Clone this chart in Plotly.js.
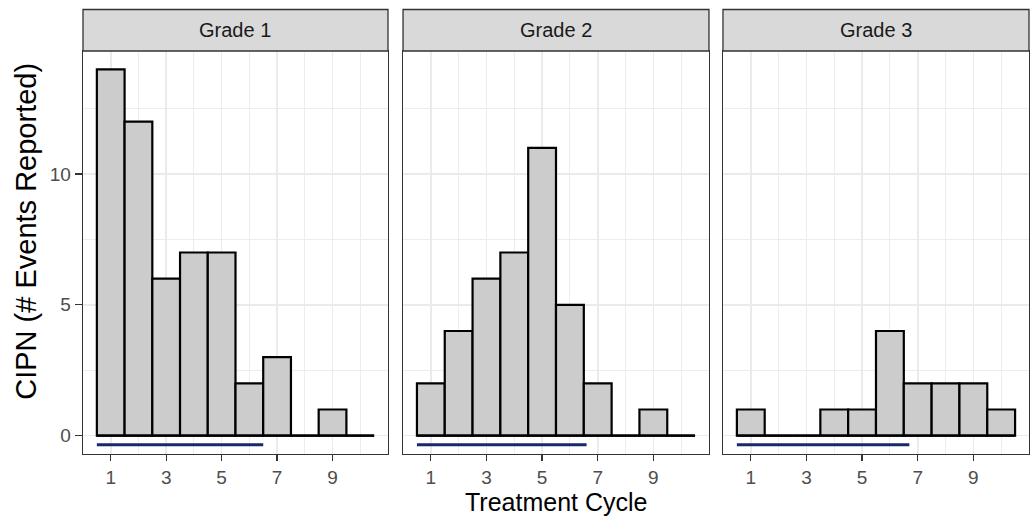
<!DOCTYPE html>
<html>
<head>
<meta charset="utf-8">
<script src="https://cdn.plot.ly/plotly-3.0.1.min.js"></script>
<style>html,body{margin:0;padding:0;background:#fff;}#chart{width:1031px;height:522px;}</style>
</head>
<body>
<div id="chart"></div>
<script>
// ---- data ----
const cycles = [1, 2, 3, 4, 5, 6, 7, 8, 9, 10];
const grade1 = [14, 12, 6, 7, 7, 2, 3, 0, 1, 0];
const grade2 = [2, 4, 6, 7, 11, 5, 2, 0, 1, 0];
const grade3 = [1, 0, 0, 1, 1, 4, 2, 2, 2, 1];
const panelNames = ["Grade 1", "Grade 2", "Grade 3"];
const segStart = [0.5, 0.5, 0.5];
const segEnd = [6.5, 6.6, 6.7];
const segY = [-0.35, -0.35, -0.35];
const xTicks = [1, 3, 5, 7, 9];
const yTicks = [0, 5, 10];
const axisTitleX = "Treatment Cycle";
const axisTitleY = "CIPN (# Events Reported)";

// ---- styling ----
const FONT = "Liberation Sans, Arial, Helvetica, sans-serif";
const counts = [grade1, grade2, grade3];
const domains = [[0, 0.3224], [0.3383, 0.6617], [0.6765, 1]];
const plotH = 403;
const stripH = 41.5;

const traces = [];
const shapes = [];
const annotations = [];
const layout = {
  width: 1031, height: 522,
  margin: {l: 83, r: 2, t: 51, b: 68},
  paper_bgcolor: "#ffffff", plot_bgcolor: "#ffffff",
  showlegend: false,
  font: {family: FONT},
  hovermode: false
};

counts.forEach((vals, i) => {
  const xa = i === 0 ? "x" : "x" + (i + 1);
  const ya = i === 0 ? "y" : "y" + (i + 1);
  traces.push({
    type: "bar", x: cycles, y: vals, width: 1,
    xaxis: xa, yaxis: ya,
    marker: {color: "#CCCCCC", line: {color: "#000000", width: 2.2}}
  });
  traces.push({
    type: "scatter", mode: "lines",
    x: [cycles[0] - 0.5, cycles[cycles.length - 1] + 0.5], y: [0, 0],
    xaxis: xa, yaxis: ya,
    line: {color: "#000000", width: 2.2}
  });
  traces.push({
    type: "scatter", mode: "lines",
    x: [segStart[i], segEnd[i]], y: [segY[i], segY[i]],
    xaxis: xa, yaxis: ya,
    line: {color: "#17296B", width: 3}
  });

  const common = {
    showline: true, mirror: true, linecolor: "#333333", linewidth: 1.3,
    ticks: "outside", ticklen: 6, tickwidth: 1.3, tickcolor: "#333333",
    showgrid: true, gridcolor: "#EBEBEB", gridwidth: 1.6,
    zeroline: false, fixedrange: true,
    tickfont: {family: FONT, size: 19, color: "#4D4D4D"}
  };
  layout[(i === 0 ? "xaxis" : "xaxis" + (i + 1))] = Object.assign({}, common, {
    domain: domains[i], anchor: ya, range: [0, 11],
    tickmode: "array", tickvals: xTicks, ticktext: xTicks.map(String),
    minor: {tick0: 0, dtick: 1, showgrid: true, gridcolor: "#EBEBEB", gridwidth: 0.9, ticks: ""}
  });
  layout[(i === 0 ? "yaxis" : "yaxis" + (i + 1))] = Object.assign({}, common, {
    domain: [0, 1], anchor: xa, range: [-0.7, 14.7],
    tickmode: "array", tickvals: yTicks, ticktext: yTicks.map(String),
    showticklabels: i === 0, ticks: i === 0 ? "outside" : "",
    ticklen: 7,
    minor: {tick0: 2.5, dtick: 5, showgrid: true, gridcolor: "#EBEBEB", gridwidth: 0.9, ticks: ""}
  });

  shapes.push({
    type: "rect", xref: "paper", yref: "paper",
    x0: domains[i][0], x1: domains[i][1], y0: 1, y1: 1 + stripH / plotH,
    fillcolor: "#D9D9D9", line: {color: "#333333", width: 1.3}, layer: "above"
  });
  annotations.push({
    xref: "paper", yref: "paper",
    x: (domains[i][0] + domains[i][1]) / 2, y: 1 + stripH / plotH / 2,
    xanchor: "center", yanchor: "middle", showarrow: false,
    text: panelNames[i], font: {family: FONT, size: 20, color: "#1A1A1A"}
  });
});

annotations.push({
  xref: "paper", yref: "paper", x: 0.5, y: 0, yshift: -48,
  xanchor: "center", yanchor: "middle", showarrow: false,
  text: axisTitleX, font: {family: FONT, size: 25, color: "#000000"}
});
annotations.push({
  xref: "paper", yref: "paper", x: 0, y: (plotH + stripH) / 2 / plotH, xshift: -57,
  xanchor: "center", yanchor: "middle", showarrow: false, textangle: -90,
  text: axisTitleY, font: {family: FONT, size: 29, color: "#000000"}
});

layout.shapes = shapes;
layout.annotations = annotations;

Plotly.newPlot("chart", traces, layout, {displayModeBar: false, staticPlot: true});
</script>
</body>
</html>
